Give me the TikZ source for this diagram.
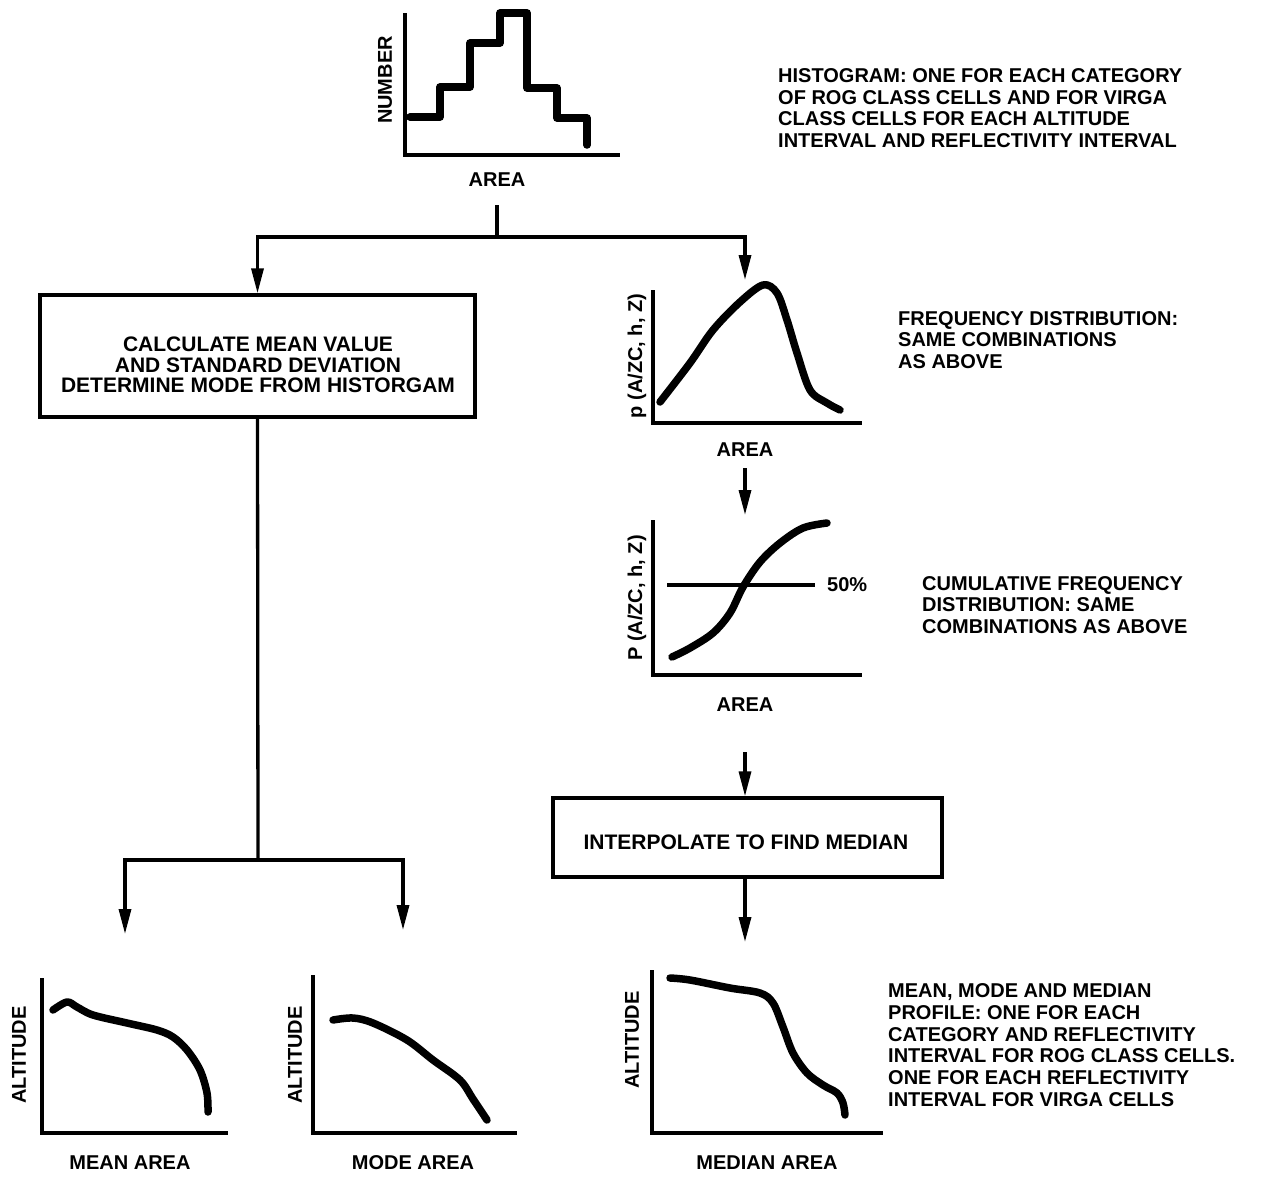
\documentclass[tikz,border=0pt]{standalone}
\usepackage{fontspec}
\setmainfont{Liberation Sans}
\usetikzlibrary{arrows.meta}
\tikzset{
  conn/.style={line width=3.3pt},
  arr/.style={line width=3.3pt,-{Triangle[length=25pt,width=12pt]}},
  axis/.style={line width=3.3pt,line join=miter},
  curve/.style={line width=7.5pt,line cap=round,line join=round},
  lbl/.style={font=\fontsize{20}{21.7}\selectfont\bfseries,inner sep=0pt},
  note/.style={lbl,align=left,anchor=west},
  boxnode/.style={draw,line width=3.3pt,inner sep=0pt},
}
\begin{document}
\begin{tikzpicture}[x=1pt,y=-1pt]
\useasboundingbox (0,0) rectangle (1264,1181);
\fill[white] (0,0) rectangle (1264,1181);

% ---------- histogram ----------
\draw[axis] (405,13) -- (405,155) -- (620,155);
\draw[curve,line cap=round] (410,117) -- (440,117) -- (440,87) -- (470,87) -- (470,43) -- (500,43) -- (500,13) -- (527,13) -- (527,88) -- (557,88) -- (557,118) -- (587,118) -- (587,145);
\node[lbl,rotate=90] (histy) at (385,80) {NUMBER};
\node[lbl] (histx) at (497,180) {AREA};
\node[note] (histnote) at (778,108) {HISTOGRAM: ONE FOR EACH CATEGORY\\OF ROG CLASS CELLS AND FOR VIRGA\\CLASS CELLS FOR EACH ALTITUDE\\INTERVAL AND REFLECTIVITY INTERVAL};

% ---------- frequency distribution ----------
\draw[axis] (653,290) -- (653,423) -- (862,423);
\draw[curve] plot[smooth,tension=0.55] coordinates {(660,402) (690,363) (713,330) (740,302) (763,285) (777,293) (787,320) (797,353) (810,390) (827,403) (840,410)};
\node[lbl,rotate=90] (freqy) at (637,356) {p (A/ZC, h, Z)};
\node[lbl] (freqx) at (745,450) {AREA};
\node[note] (freqnote) at (898,340) {FREQUENCY DISTRIBUTION:\\SAME COMBINATIONS\\AS ABOVE};

% ---------- cumulative distribution ----------
\draw[axis] (653,520) -- (653,675) -- (862,675);
\draw[line width=3.3pt] (667,585) -- (815,585);
\draw[curve] plot[smooth,tension=0.55] coordinates {(672,657) (690,648) (713,633) (730,613) (743,587) (760,562) (780,543) (803,528) (827,523)};
\node[lbl,anchor=west] (fifty) at (827,585) {50\%};
\node[lbl,rotate=90] (cumy) at (637,598) {P (A/ZC, h, Z)};
\node[lbl] (cumx) at (745,705) {AREA};
\node[note] (cumnote) at (922,605) {CUMULATIVE FREQUENCY\\DISTRIBUTION: SAME\\COMBINATIONS AS ABOVE};

% ---------- boxes ----------
\node[boxnode,minimum width=435pt,minimum height=122pt] (calc) at (257.5,356) {};
\node[lbl,align=center,font=\fontsize{21}{20.5}\selectfont\bfseries] (calct) at (258,365) {CALCULATE MEAN VALUE\\AND STANDARD DEVIATION\\DETERMINE MODE FROM HISTORGAM};
\node[boxnode,minimum width=389pt,minimum height=79pt] (interp) at (747.5,837.5) {};
\node[lbl,font=\fontsize{21}{22}\selectfont\bfseries] (interpt) at (746,842) {INTERPOLATE TO FIND MEDIAN};

% ---------- profiles ----------
\draw[axis] (42,978) -- (42,1133) -- (228,1133);
\draw[curve] plot[smooth,tension=0.55] coordinates {(53,1010) (67,1002) (77,1007) (93,1015) (127,1023) (157,1030) (173,1037) (187,1050) (200,1070) (207,1093) (208,1112)};
\node[lbl,rotate=90] (meany) at (19,1055) {ALTITUDE};
\node[lbl] (meanx) at (130,1163) {MEAN AREA};

\draw[axis] (313,975) -- (313,1133) -- (517,1133);
\draw[curve] plot[smooth,tension=0.55] coordinates {(333,1020) (353,1018) (373,1023) (407,1040) (433,1060) (460,1080) (473,1099) (487,1120)};
\node[lbl,rotate=90] (modey) at (295,1055) {ALTITUDE};
\node[lbl] (modex) at (413,1163) {MODE AREA};

\draw[axis] (652,970) -- (652,1133) -- (883,1133);
\draw[curve] plot[smooth,tension=0.55] coordinates {(670,978) (690,980) (730,988) (760,993) (773,1003) (783,1027) (793,1053) (807,1073) (823,1085) (837,1093) (843,1103) (845,1115)};
\node[lbl,rotate=90] (medy) at (632,1040) {ALTITUDE};
\node[lbl] (medx) at (767,1163) {MEDIAN AREA};
\node[note] (profnote) at (888,1045) {MEAN, MODE AND MEDIAN\\PROFILE: ONE FOR EACH\\CATEGORY AND REFLECTIVITY\\INTERVAL FOR ROG CLASS CELLS.\\ONE FOR EACH REFLECTIVITY\\INTERVAL FOR VIRGA CELLS};

% ---------- connectors ----------
\coordinate (hs) at (497,205);
\coordinate (hj) at (497,237);
\coordinate (freqtip) at (745,280);
\draw[conn] (hs) -- (hj);
\draw[arr] (hj) -| (calc.north);
\draw[arr] (hj) -| (freqtip);

\coordinate (fs) at (745,468);
\coordinate (fe) at (745,515);
\draw[arr] (fs) -- (fe);

\coordinate (cs) at (745,752);
\draw[arr] (cs) -- (cs |- interp.north);

\coordinate (ie) at (745,942);
\draw[arr] (ie |- interp.south) -- (ie);

\coordinate (cj) at (258,860);
\coordinate (ml) at (125,934);
\coordinate (mr) at (403,930);
\draw[conn] (calc.south) -- (cj);
\draw[arr] (cj) -| (ml);
\draw[arr] (cj) -| (mr);
\end{tikzpicture}
\end{document}
